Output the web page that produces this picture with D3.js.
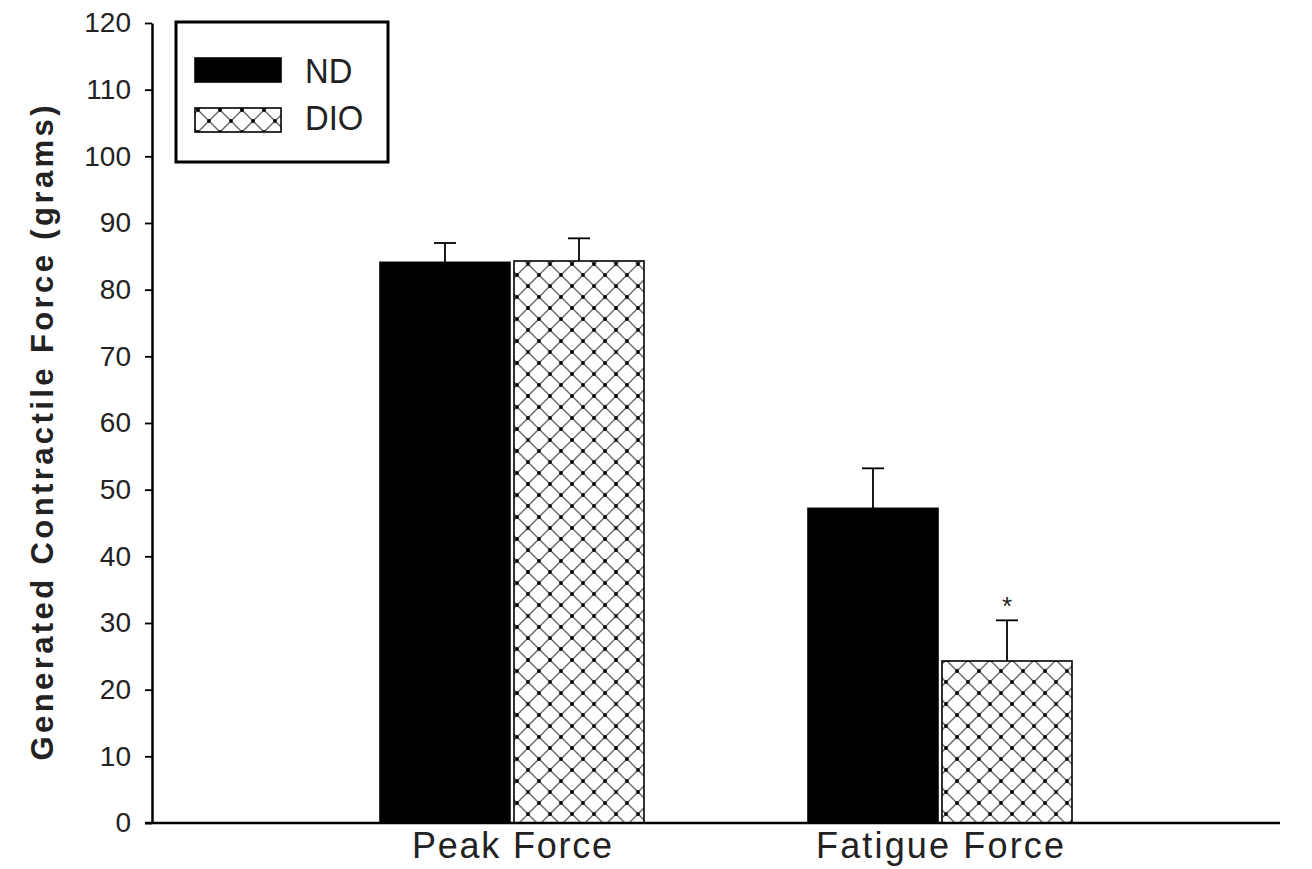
<!DOCTYPE html>
<html>
<head>
<meta charset="utf-8">
<script src="https://cdn.jsdelivr.net/npm/d3@7"></script>
<style>
body { margin: 0; background: #fff; }
text { font-family: Arial, "Liberation Sans", sans-serif; fill: #222; }
</style>
</head>
<body>
<svg id="chart" width="1312" height="869"></svg>
<script>
var categories = ['Peak Force', 'Fatigue Force'],
	series = ['ND', 'DIO'],
	means = { 'ND': [84.1, 47.2], 'DIO': [84.3, 24.3] },
	errors = { 'ND': [2.9, 6.0], 'DIO': [3.4, 6.1] },
	marks = { 'ND': ['', ''], 'DIO': ['', '*'] },
	yTicks = [0, 10, 20, 30, 40, 50, 60, 70, 80, 90, 100, 110, 120];

var svg = d3.select('#chart'),
	plotL = 152, plotR = 1280, plotT = 23, plotB = 823;

var y = d3.scaleLinear().domain([0, 120]).range([plotB, plotT]);
var x0 = d3.scaleBand().domain(categories).range([298, 1154]);
var x1 = d3.scaleBand().domain(series).range([-132, 132]);
var barW = 130;
var labelLen = { 'Peak Force': 200, 'Fatigue Force': 248 };

// crosshatch pattern with dots on the crossings
var defs = svg.append('defs');
var pat = defs.append('pattern')
	.attr('id', 'hatch')
	.attr('patternUnits', 'userSpaceOnUse')
	.attr('width', 22).attr('height', 22);
pat.append('rect').attr('width', 22).attr('height', 22).attr('fill', '#fff');
pat.append('path')
	.attr('d', 'M0,0L22,22M22,0L0,22')
	.attr('stroke', '#666').attr('stroke-width', 1.4);
[[0, 0], [22, 0], [0, 22], [22, 22], [11, 11]].forEach(function(p) {
	pat.append('circle').attr('cx', p[0]).attr('cy', p[1]).attr('r', 1.9).attr('fill', '#000');
});

function fillOf(s) { return s === 'ND' ? '#000' : 'url(#hatch)'; }
function barX(s, i) { return x0(categories[i]) + x0.bandwidth() / 2 + x1(s) + (s === 'ND' ? 0 : 2); }

var rows = [];
series.forEach(function(s) {
	categories.forEach(function(c, i) {
		rows.push({ s: s, i: i, v: means[s][i], e: errors[s][i], m: marks[s][i] });
	});
});

// error bars first so bars cover them
var eb = svg.append('g').attr('stroke', '#000').attr('stroke-width', 1.8);
rows.forEach(function(d) {
	var cx = barX(d.s, d.i) + barW / 2;
	eb.append('line').attr('x1', cx).attr('x2', cx).attr('y1', y(d.v)).attr('y2', y(d.v + d.e));
	eb.append('line').attr('x1', cx - 11).attr('x2', cx + 11).attr('y1', y(d.v + d.e)).attr('y2', y(d.v + d.e));
});

svg.append('g').selectAll('rect')
	.data(rows)
	.enter().append('rect')
	.attr('x', function(d) { return barX(d.s, d.i); })
	.attr('y', function(d) { return y(d.v); })
	.attr('width', barW)
	.attr('height', function(d) { return y(0) - y(d.v); })
	.attr('fill', function(d) { return fillOf(d.s); })
	.attr('stroke', '#000')
	.attr('stroke-width', 1.6);

svg.append('g').selectAll('text.mark')
	.data(rows.filter(function(d) { return d.m; }))
	.enter().append('text')
	.attr('x', function(d) { return barX(d.s, d.i) + barW / 2; })
	.attr('y', function(d) { return y(d.v + d.e) + 2; })
	.attr('text-anchor', 'middle')
	.attr('font-size', 26)
	.attr('dy', '-0.3em')
	.text(function(d) { return d.m; });

// y axis
var yAxis = svg.append('g')
	.attr('transform', 'translate(' + plotL + ',0)')
	.call(d3.axisLeft(y).tickValues(yTicks).tickSize(7).tickSizeOuter(0).tickPadding(14));
yAxis.select('.domain').attr('stroke', '#000').attr('stroke-width', 2.5);
yAxis.selectAll('.tick line').attr('stroke', '#000').attr('stroke-width', 1.8);
yAxis.selectAll('.tick text').attr('font-size', 28).style('font-family', 'Arial, "Liberation Sans", sans-serif').attr('fill', '#222');

// x axis
svg.append('line')
	.attr('x1', plotL - 7).attr('x2', plotR)
	.attr('y1', plotB).attr('y2', plotB)
	.attr('stroke', '#000').attr('stroke-width', 2.5);
var xAxis = svg.append('g')
	.attr('transform', 'translate(0,' + plotB + ')')
	.call(d3.axisBottom(x0).tickSize(0).tickPadding(9));
xAxis.select('.domain').remove();
xAxis.selectAll('.tick text')
	.attr('font-size', 36)
	.style('font-family', 'Arial, "Liberation Sans", sans-serif')
	.attr('fill', '#222')
	.attr('dy', '0.71em')
	.attr('textLength', function(d) { return labelLen[d]; })
	.attr('lengthAdjust', 'spacing');

// axis title
svg.append('text')
	.attr('transform', 'translate(53,' + ((plotT + plotB) / 2 + 10) + ') rotate(-90)')
	.attr('text-anchor', 'middle')
	.attr('font-size', 31)
	.attr('font-weight', 'bold')
	.attr('fill', '#222')
	.attr('textLength', 655)
	.attr('lengthAdjust', 'spacing')
	.text('Generated Contractile Force (grams)');

// legend
var lg = svg.append('g');
lg.append('rect').attr('x', 176).attr('y', 22).attr('width', 212).attr('height', 140)
	.attr('fill', '#fff').attr('stroke', '#000').attr('stroke-width', 3);
series.forEach(function(s, i) {
	lg.append('rect').attr('x', 195).attr('y', 58 + i * 50).attr('width', 86).attr('height', 24)
		.attr('fill', fillOf(s)).attr('stroke', '#000').attr('stroke-width', 1.6);
	lg.append('text')
		.attr('transform', 'translate(305,' + (83 + i * 47) + ') scale(0.91,1)')
		.attr('font-size', 36)
		.text(s);
});
</script>
</body>
</html>
